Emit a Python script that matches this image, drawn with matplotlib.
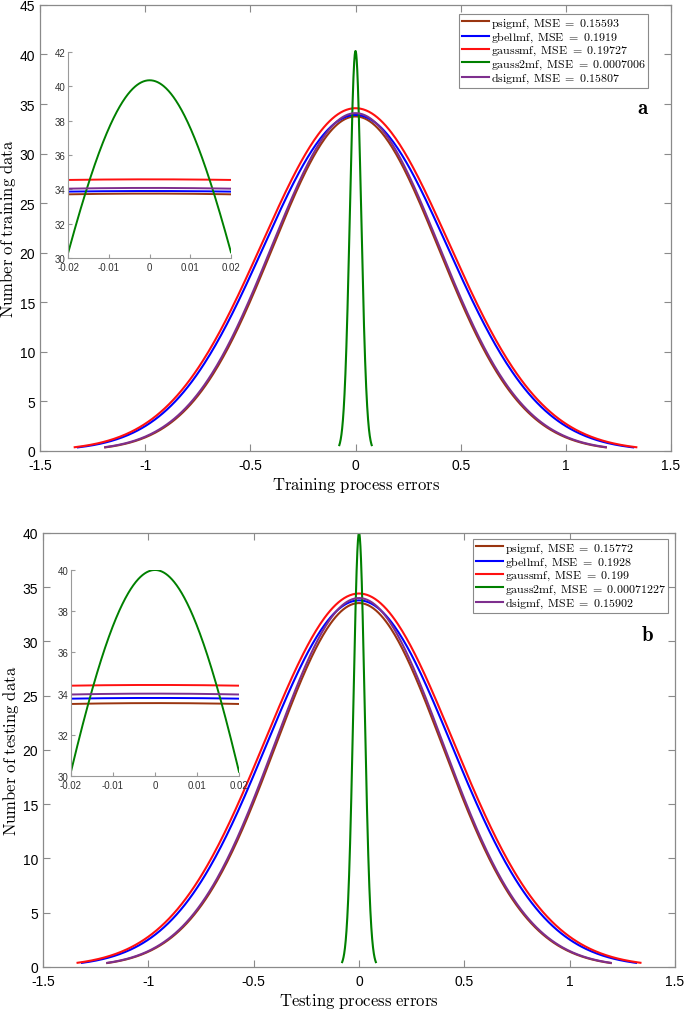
import numpy as np
import matplotlib
matplotlib.use('Agg')
import matplotlib.pyplot as plt

plt.rcParams['mathtext.fontset'] = 'cm'
plt.rcParams['font.family'] = ['Liberation Sans', 'DejaVu Sans']
plt.rcParams['axes.unicode_minus'] = False

# membership function names and colours (same order in both panels)
names = ['psigmf', 'gbellmf', 'gaussmf', 'gauss2mf', 'dsigmf']
colors = ['#9a3510', '#0000ff', '#ff1010', '#008000', '#7e2f8e']

# panel a: training errors (MSE from legend, peak / range)
train_mse = [0.15593, 0.1919, 0.19727, 0.0007006, 0.15807]
train_mse_txt = ['0.15593', '0.1919', '0.19727', '0.0007006', '0.15807']
train_peak = [33.75, 33.9, 34.58, 40.35, 34.08]
train_xmax = [1.19, 1.32, 1.335, 0.077, 1.19]

# panel b: testing errors
test_mse = [0.15772, 0.1928, 0.199, 0.00071227, 0.15902]
test_mse_txt = ['0.15772', '0.1928', '0.199', '0.00071227', '0.15902']
test_peak = [33.54, 33.79, 34.42, 40.0, 34.0]
test_xmax = [1.195, 1.315, 1.336, 0.08, 1.195]

main_xticks = [-1.5, -1, -0.5, 0, 0.5, 1, 1.5]
main_xlabels = ['-1.5', '-1', '-0.5', '0', '0.5', '1', '1.5']
inset_xticks = [-0.02, -0.01, 0, 0.01, 0.02]
inset_xlabels = ['-0.02', '-0.01', '0', '0.01', '0.02']

spine_col = '#8a8a8a'


def normal_curve(peak, mse, xmax, n=400):
    x = np.linspace(-xmax, xmax, n)
    y = peak * np.exp(-x ** 2 / (2 * mse))
    return x, y


def style_main(ax):
    for s in ax.spines.values():
        s.set_color(spine_col)
        s.set_linewidth(0.9)
    ax.tick_params(direction='in', length=5, color=spine_col, labelsize=10,
                   top=True, right=True)
    ax.tick_params(axis='x', pad=5)
    ax.tick_params(axis='y', pad=3.5)


def draw_panel(ax, ins, mse, mse_txt, peak, xmax, ymax, inset_ymax,
               xlabel, ylabel, letter, leg_anchor):
    for i in range(len(names)):
        x, y = normal_curve(peak[i], mse[i], xmax[i])
        ax.plot(x, y, color=colors[i], lw=1.5,
                label=r'$\mathrm{%s,\;MSE\ =\ %s}$' % (names[i], mse_txt[i]))
        xi, yi = normal_curve(peak[i], mse[i], 0.02)
        ins.plot(xi, yi, color=colors[i], lw=1.4)

    ax.set_xlim(-1.5, 1.5)
    ax.set_ylim(0, ymax)
    ax.set_xticks(main_xticks)
    ax.set_xticklabels(main_xlabels)
    ax.set_yticks(np.arange(0, ymax + 1, 5))
    style_main(ax)
    ax.set_xlabel(r'$\mathrm{%s}$' % xlabel.replace(' ', r'\ '), fontsize=12,
                  labelpad=2)
    ax.set_ylabel(r'$\mathrm{%s}$' % ylabel.replace(' ', r'\ '), fontsize=12,
                  labelpad=1)

    leg = ax.legend(loc='upper right', bbox_to_anchor=leg_anchor, fontsize=8.6,
                    handlelength=2.3, handletextpad=0.15, borderpad=0.2,
                    labelspacing=0.0, borderaxespad=0, fancybox=False,
                    framealpha=1)
    leg.get_frame().set_edgecolor('#8a8a8a')
    leg.get_frame().set_linewidth(0.8)

    ax.text(letter[1], letter[2], r'$\mathbf{%s}$' % letter[0], fontsize=15,
            transform=ax.transAxes, ha='center', va='center')

    ins.set_xlim(-0.02, 0.02)
    ins.set_ylim(30, inset_ymax)
    ins.set_xticks(inset_xticks)
    ins.set_xticklabels(inset_xlabels)
    ins.set_yticks(np.arange(30, inset_ymax + 1, 2))
    ins.spines['top'].set_visible(False)
    ins.spines['right'].set_visible(False)
    for s in ['left', 'bottom']:
        ins.spines[s].set_color('#9a9a9a')
        ins.spines[s].set_linewidth(0.8)
    ins.tick_params(direction='in', length=3, color='#9a9a9a', labelsize=7,
                    labelcolor='#333333', pad=2)
    ins.tick_params(axis='x', pad=3)


fig = plt.figure(figsize=(6.85, 10.2), dpi=100)

ax1 = fig.add_axes([0.0584, 0.5569, 0.9212, 0.4373])
ins1 = fig.add_axes([0.0997, 0.7461, 0.2375, 0.2020])
draw_panel(ax1, ins1, train_mse, train_mse_txt, train_peak, train_xmax, 45, 42,
           'Training process errors', 'Number of training data',
           ('a', 0.9556, 0.771), (0.9635, 0.9798))

ax2 = fig.add_axes([0.0628, 0.0510, 0.9226, 0.4255])
ins2 = fig.add_axes([0.1036, 0.2382, 0.2453, 0.2020])
draw_panel(ax2, ins2, test_mse, test_mse_txt, test_peak, test_xmax, 40, 40,
           'Testing process errors', 'Number of testing data',
           ('b', 0.957, 0.765), (0.989, 0.9862))

fig.savefig('out.png', dpi=100)
